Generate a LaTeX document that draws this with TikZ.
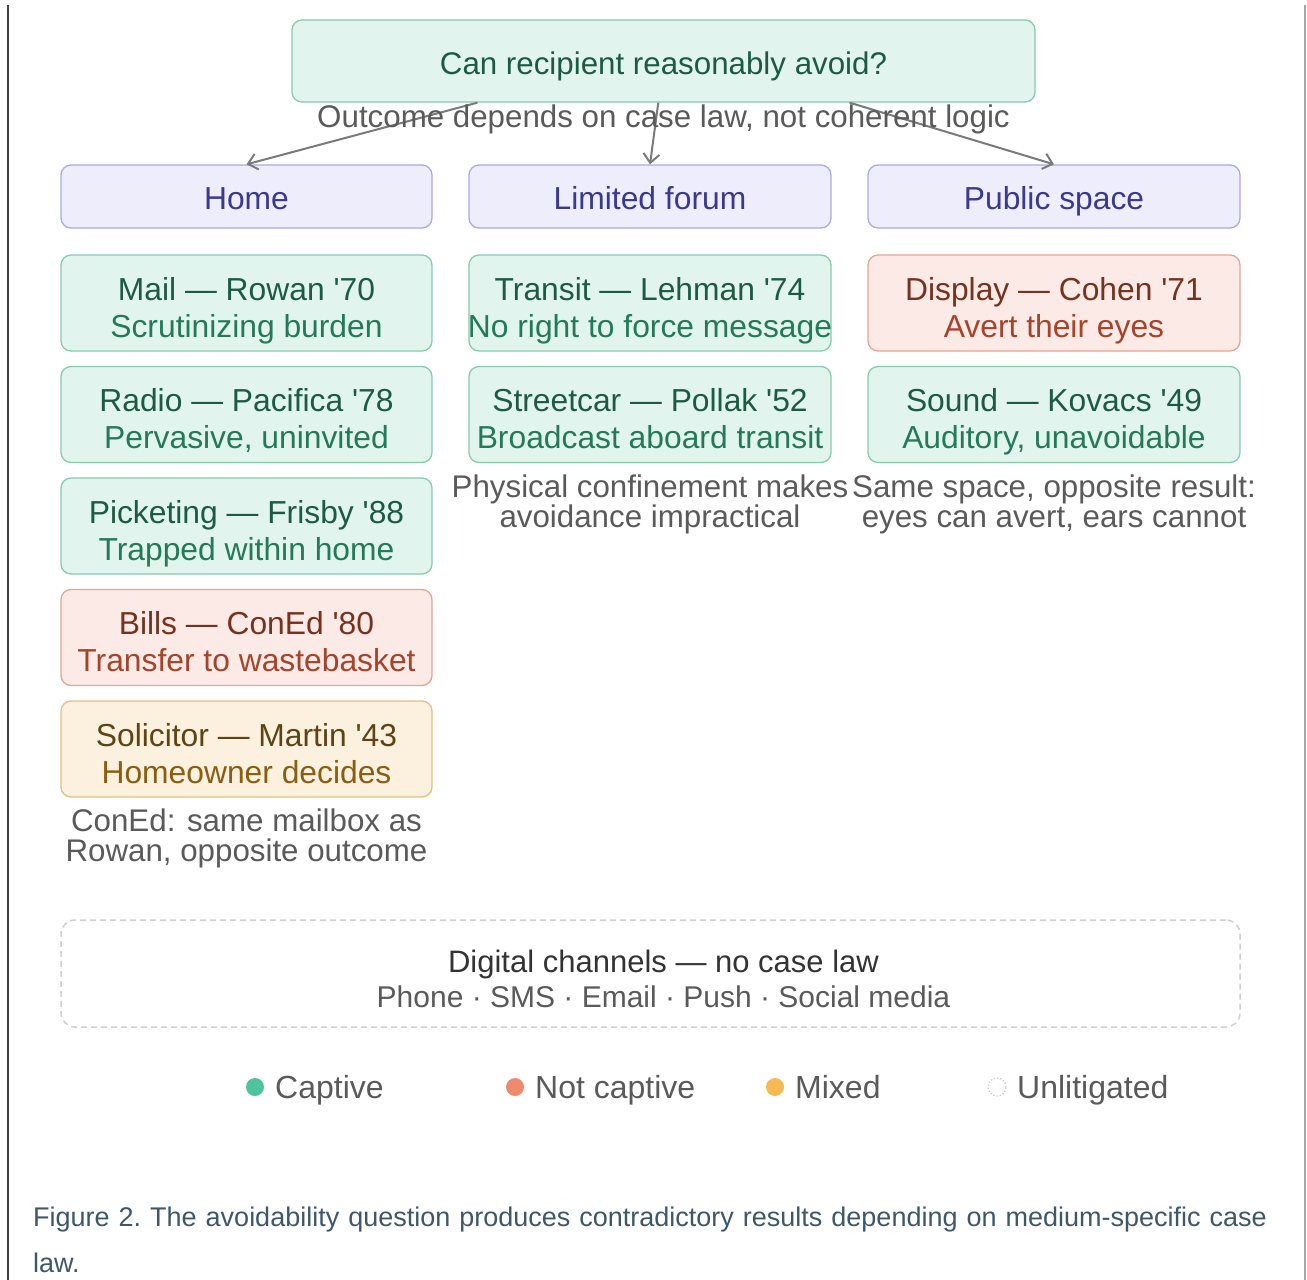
\documentclass[tikz,border=0pt]{standalone}
\usepackage{fontspec}
\setmainfont{Liberation Sans}
\usetikzlibrary{arrows.meta,calc}

% palette
\definecolor{gFill}{HTML}{E1F5EE}
\definecolor{gLine}{HTML}{86CBAE}
\definecolor{gDark}{HTML}{1D5A44}
\definecolor{gText}{HTML}{23795A}
\definecolor{rFill}{HTML}{FBEAE6}
\definecolor{rLine}{HTML}{E3A595}
\definecolor{rDark}{HTML}{77321F}
\definecolor{rText}{HTML}{A6432B}
\definecolor{yFill}{HTML}{FCF1DE}
\definecolor{yLine}{HTML}{E2C083}
\definecolor{yDark}{HTML}{5E4414}
\definecolor{yText}{HTML}{8A5D12}
\definecolor{pFill}{HTML}{EDEDFC}
\definecolor{pLine}{HTML}{ABA8E3}
\definecolor{pText}{HTML}{3A3890}
\definecolor{note}{HTML}{5A5A5A}
\definecolor{arrowgray}{HTML}{7A7A7A}
\definecolor{dashgray}{HTML}{CFCFCF}
\definecolor{capText}{HTML}{3E5868}
\definecolor{dotG}{HTML}{4DC49B}
\definecolor{dotR}{HTML}{EE8B6C}
\definecolor{dotY}{HTML}{F6BA52}

\newcommand{\boxfont}{\fontsize{31.8}{37}\selectfont}
\newcommand{\topfont}{\fontsize{31.3}{37}\selectfont}
\newcommand{\notefont}{\fontsize{31.3}{30}\selectfont}
\newcommand{\legfont}{\fontsize{32}{37}\selectfont}
\newcommand{\capfont}{\fontsize{27}{46}\selectfont}
\newcommand{\q}{\textquotesingle}
% two struts-equalised lines: darker heading, lighter remark
\newcommand{\twolines}[3]{\textcolor{#1}{#2}\strut\\#3\strut}

\tikzset{
  basebox/.style={draw, line width=1.3pt, rounded corners=10pt,
    inner sep=0pt, minimum height=96pt},
  greenbox/.style={basebox, draw=gLine, fill=gFill},
  redbox/.style={basebox, draw=rLine, fill=rFill},
  yellowbox/.style={basebox, draw=yLine, fill=yFill},
  boxtext/.style={align=center, inner sep=0pt, font=\boxfont},
  gtext/.style={boxtext, text=gText},
  rtext/.style={boxtext, text=rText},
  ytext/.style={boxtext, text=yText},
  headbox/.style={draw=pLine, fill=pFill, line width=1.3pt, rounded corners=10pt,
    text=pText, font=\boxfont, minimum height=63pt, inner sep=0pt,
    text height=26pt, text depth=0pt},
  notetext/.style={text=note, font=\notefont, align=center, inner sep=0pt},
  connector/.style={draw=arrowgray, line width=2pt,
    -{Straight Barb[length=9pt,width=16pt,line width=2pt]}},
  legtext/.style={text=note, font=\legfont, anchor=base west, inner sep=0pt},
}

\begin{document}
\begin{tikzpicture}[x=1pt,y=-1pt]
\useasboundingbox (0,0) rectangle (1307,1280);
\fill[white] (0,0) rectangle (1307,1280);

% frame edges
\draw[line width=2pt, color=black!75] (8,5) -- (8,1280);
\draw[line width=2pt, color=black!35] (1305,5) -- (1305,1280);

% question
\node[basebox, draw=gLine, fill=gFill, text=gDark, font=\topfont,
  minimum width=743pt, minimum height=82pt, text height=26pt, text depth=0pt]
  (top) at (663.5,61) {Can recipient reasonably avoid?};

% column headers
\node[headbox, minimum width=371pt] (home)   at (246.5,196.5) {Home};
\node[headbox, minimum width=362pt] (forum)  at (650,196.5)   {Limited forum};
\node[headbox, minimum width=372pt] (public) at (1054,196.5)  {Public space};

% connectors and their shared label
\coordinate (sL) at ($(top.south west)!0.25!(top.south east)$);
\coordinate (sM) at ($(top.south west)!0.493!(top.south east)$);
\coordinate (sR) at ($(top.south west)!0.75!(top.south east)$);
\draw[connector] (sL) -- (home.north);
\draw[connector] (sM) -- (forum.north);
\draw[connector] (sR) -- (public.north);
\node[notetext] (outcome) at (663.5,119) {Outcome depends on case law, not coherent logic};

% home column
\node[greenbox, minimum width=371pt] (mail) at (246.5,303) {};
\node[gtext] (mailT) at ([yshift=-8.5pt]mail.center)
  {\twolines{gDark}{Mail — Rowan \q70}{Scrutinizing burden}};
\node[greenbox, minimum width=371pt] (radio) at (246.5,414.5) {};
\node[gtext] (radioT) at ([yshift=-8.5pt]radio.center)
  {\twolines{gDark}{Radio — Pacifica \q78}{Pervasive, uninvited}};
\node[greenbox, minimum width=371pt] (picket) at (246.5,526) {};
\node[gtext] (picketT) at ([yshift=-8.5pt]picket.center)
  {\twolines{gDark}{Picketing — Frisby \q88}{Trapped within home}};
\node[redbox, minimum width=371pt] (bills) at (246.5,637.5) {};
\node[rtext] (billsT) at ([yshift=-8.5pt]bills.center)
  {\twolines{rDark}{Bills — ConEd \q80}{Transfer to wastebasket}};
\node[yellowbox, minimum width=371pt] (solic) at (246.5,749) {};
\node[ytext] (solicT) at ([yshift=-8.5pt]solic.center)
  {\twolines{yDark}{Solicitor — Martin \q43}{Homeowner decides}};
\node[notetext] (homenote) at (246.5,838)
  {ConEd: same mailbox as\\Rowan, opposite outcome};

% limited forum column
\node[greenbox, minimum width=362pt] (transit) at (650,303) {};
\node[gtext] (transitT) at ([yshift=-8.5pt]transit.center)
  {\twolines{gDark}{Transit — Lehman \q74}{No right to force message}};
\node[greenbox, minimum width=362pt] (street) at (650,414.5) {};
\node[gtext] (streetT) at ([yshift=-8.5pt]street.center)
  {\twolines{gDark}{Streetcar — Pollak \q52}{Broadcast aboard transit}};
\node[notetext] (forumnote) at (650,504)
  {Physical confinement makes\\avoidance impractical};

% public space column
\node[redbox, minimum width=372pt] (display) at (1054,303) {};
\node[rtext] (displayT) at ([yshift=-8.5pt]display.center)
  {\twolines{rDark}{Display — Cohen \q71}{Avert their eyes}};
\node[greenbox, minimum width=372pt] (sound) at (1054,414.5) {};
\node[gtext] (soundT) at ([yshift=-8.5pt]sound.center)
  {\twolines{gDark}{Sound — Kovacs \q49}{Auditory, unavoidable}};
\node[notetext] (publicnote) at (1054,504)
  {Same space, opposite result:\\eyes can avert, ears cannot};

% unlitigated channels
\node[draw=dashgray, line width=1.5pt, dash pattern=on 6pt off 4pt, rounded corners=14pt,
  minimum width=1179pt, minimum height=107pt, inner sep=0pt] (digital) at (650.5,973.5) {};
\node[align=center, inner sep=0pt, font=\fontsize{31}{35}\selectfont, text=black!80]
  (digitalT) at (663.5,978.5)
  {Digital channels — no case law\\\textcolor{note}{\fontsize{30}{35}\selectfont Phone · SMS · Email · Push · Social media}};

% legend
\fill[dotG] (255,1087) circle (9pt);
\node[legtext] (lgG) at (275,1098) {Captive};
\fill[dotR] (515,1087) circle (9pt);
\node[legtext] (lgR) at (535,1098) {Not captive};
\fill[dotY] (775,1087) circle (9pt);
\node[legtext] (lgY) at (795,1098) {Mixed};
\draw[black!22, line width=1.2pt, dotted] (997,1087) circle (9pt);
\node[legtext] (lgU) at (1017,1098) {Unlitigated};

% caption
\node[anchor=north west, inner sep=0pt, text=capText, font=\capfont, align=left,
  text width=1260pt, execute at begin node=\frenchspacing] (caption) at (33,1207)
  {Figure 2. The avoidability question produces contradictory results depending on medium-specific case\\law.};
\end{tikzpicture}
\end{document}
